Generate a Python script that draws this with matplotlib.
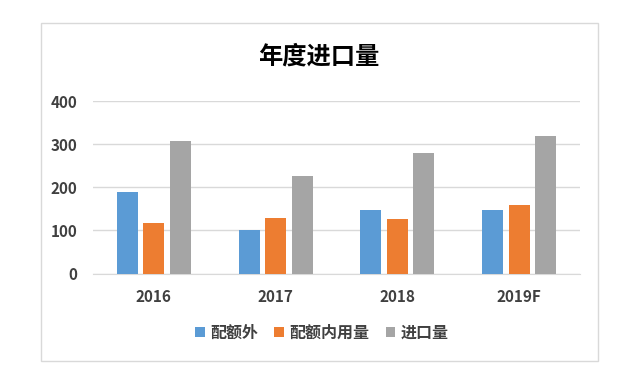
import numpy as np
import matplotlib.pyplot as plt
from matplotlib.patches import Rectangle

plt.rcParams['font.family'] = ['Noto Sans CJK SC', 'DejaVu Sans']

# data
years = ['2016', '2017', '2018', '2019F']
quota_out = [190, 100, 148, 148]      # 配额外
quota_in = [118, 128, 127, 160]       # 配额内用量
imports = [308, 227, 280, 320]        # 进口量

names = ['配额外', '配额内用量', '进口量']
colors = ['#5B9BD5', '#ED7D31', '#A5A5A5']

fig = plt.figure(figsize=(6.21, 3.71), dpi=100)
# outer chart border
fig.patches.append(Rectangle((40.5 / 621, 1 - 361 / 371), 557.5 / 621, 338 / 371,
                             transform=fig.transFigure, fill=False,
                             edgecolor='#D9D9D9', linewidth=1))

ax = fig.add_axes([93 / 621, 1 - 273.5 / 371, 487 / 621, 172.5 / 371])

x = np.arange(len(years))
w = 0.172
step = 0.218
for i, (vals, name) in enumerate(zip([quota_out, quota_in, imports], names)):
    ax.bar(x + (i - 1) * step, vals, width=w, color=colors[i], label=name, zorder=3)

ax.set_xlim(-0.5, 3.5)
ax.set_ylim(0, 400)
ax.set_yticks([0, 100, 200, 300, 400])
ax.set_xticks(x)
ax.set_xticklabels(years)
ax.grid(axis='y', color='#D9D9D9', linewidth=1, zorder=0)
for s in ['top', 'right', 'left']:
    ax.spines[s].set_visible(False)
ax.spines['bottom'].set_color('#D9D9D9')
ax.tick_params(length=0, labelsize=11, labelcolor='#404040')
ax.tick_params(axis='y', pad=11)
ax.tick_params(axis='x', pad=11)
for lab in ax.get_xticklabels() + ax.get_yticklabels():
    lab.set_fontweight('bold')

fig.text(319 / 621, 1 - 57 / 371, '年度进口量', ha='center', va='center',
         fontsize=17.5, fontweight='bold', color='#000000')

fig.legend(loc='center', bbox_to_anchor=(322 / 621, 1 - 333 / 371), ncol=3,
           frameon=False, handlelength=0.6, handleheight=0.6,
           handletextpad=0.35, columnspacing=1.0, labelcolor='#404040',
           prop={'weight': 'bold', 'size': 11.5})

fig.savefig('out.png', dpi=100)
